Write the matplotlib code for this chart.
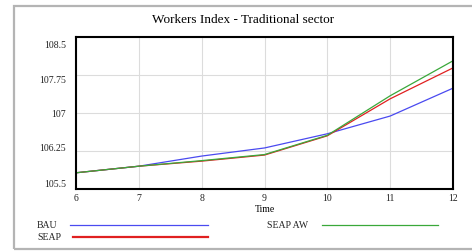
import matplotlib.pyplot as plt
from matplotlib.patches import Rectangle
from matplotlib.lines import Line2D
from matplotlib.transforms import ScaledTranslation

# values
time = [6, 7, 8, 9, 10, 11, 12]
bau = [105.82, 105.95, 106.15, 106.31, 106.59, 106.94, 107.49]
seap = [105.82, 105.95, 106.05, 106.17, 106.55, 107.28, 107.89]
seap_aw = [105.82, 105.95, 106.06, 106.18, 106.56, 107.34, 108.03]
y_ticks = [105.5, 106.25, 107, 107.75, 108.5]
y_labels = ['105.5', '106.25', '107', '107.75', '108.5']

names = ['BAU', 'SEAP', 'SEAP AW']
colors = ['#4a4af0', '#e02020', '#3aa83a']

plt.rcParams['font.family'] = ['Liberation Serif', 'DejaVu Serif']

W, H = 472, 253
fig = plt.figure(figsize=(W / 100, H / 100), dpi=100)
fig.patch.set_facecolor('white')

# grey frame around the whole panel
fig.add_artist(Rectangle((14 / W, 3 / H), 1.1, 243 / H, transform=fig.transFigure,
                         fill=False, edgecolor='#b4b4b4', linewidth=1.6))

ax = fig.add_axes([76 / W, 63 / H, 377 / W, 152 / H])
for vals, name, c in zip([bau, seap, seap_aw], names, colors):
    ax.plot(time, vals, color=c, linewidth=0.9, label=name)

ax.set_xlim(6, 12)
ax.set_ylim(105.5, 108.5)
ax.set_xticks(time)
ax.set_yticks(y_ticks)
ax.set_yticklabels(y_labels)
ax.grid(True, color='#dcdcdc', linewidth=0.8)
ax.tick_params(length=0, labelsize=7, pad=7, labelcolor='#222222')
ax.tick_params(axis='x', pad=3)
for s in ax.spines.values():
    s.set_linewidth(1.5)
ax.set_xlabel('Time', fontsize=7, labelpad=1)

# vensim squeezes the y labels toward the middle
shifts = [6, 4, 0, -4, -7]
for lab, dy in zip(ax.get_yticklabels(), shifts):
    lab.set_transform(lab.get_transform() + ScaledTranslation(0, dy / 100, fig.dpi_scale_trans))

fig.text(243 / W, 1 - 20 / H, 'Workers Index - Traditional sector', fontsize=9.5,
         ha='center', va='center')

# legend laid out like the original: label, then a long line
leg_pos = [(37, 70, 208, 226), (37, 73, 208, 238), (267, 322, 438, 226)]
widths = [0.9, 1.6, 0.9]
for name, c, lw, (tx, x0, x1, y) in zip(names, colors, widths, leg_pos):
    fig.text(tx / W, 1 - y / H, name, fontsize=7, ha='left', va='center', color='#222222')
    fig.add_artist(Line2D([x0 / W, x1 / W], [1 - y / H, 1 - y / H], transform=fig.transFigure,
                          color=c, linewidth=lw))

fig.savefig('out.png', dpi=100)
